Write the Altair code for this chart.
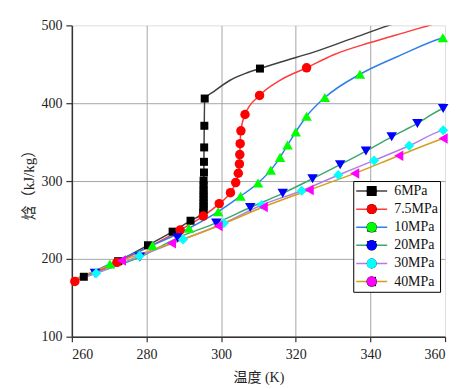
import altair as alt
import pandas as pd

# ---------------- data ----------------
series_names = ["6MPa", "7.5MPa", "10MPa", "20MPa", "30MPa", "40MPa"]
line_colors = ["#404040", "#ff3b3b", "#2f7fe6", "#3da86c", "#b27ee6", "#d4a01c"]
marker_colors = ["#000000", "#ff0000", "#00ff00", "#0000ff", "#00ffff", "#ff00ff"]
marker_shapes = ["square", "circle", "triangle-up", "triangle-down", "diamond", "triangle-left"]
marker_sizes = [64, 90, 110, 110, 100, 110]

# traced curves (temperature K, enthalpy kJ/kg)
line_t_6 = [260.4, 263.2, 272.4, 280.4, 287.0, 291.8, 295.2, 295.6, 297.9, 302.4, 306.8, 310.4, 316.0, 325.0, 335.0, 345.0, 360.0]
line_h_6 = [171.0, 176.5, 197.0, 217.5, 235.0, 249.0, 259.5, 406.0, 414.5, 429.5, 438.8, 444.5, 453.0, 466.0, 483.0, 500.0, 522.0]
line_t_75 = [260.8, 272.1, 289.0, 295.2, 299.5, 302.5, 303.9, 304.6, 304.9, 305.0, 305.1, 305.3, 306.4, 310.3, 316.0, 322.9, 330.0, 340.0, 350.0, 355.0, 360.0]
line_h_75 = [171.0, 195.5, 237.0, 255.0, 271.0, 285.0, 298.0, 310.0, 322.0, 334.0, 348.0, 364.5, 385.5, 410.0, 430.0, 445.5, 462.0, 478.0, 492.0, 499.0, 506.0]
line_t_10 = [260.4, 270.2, 281.6, 291.4, 299.2, 305.2, 309.9, 313.3, 315.8, 317.8, 320.0, 322.9, 327.8, 337.2, 348.0, 359.4, 360.0]
line_h_10 = [171.5, 193.5, 217.3, 239.3, 260.6, 280.5, 297.5, 314.0, 330.4, 346.2, 363.2, 383.3, 407.3, 437.2, 461.5, 484.2, 485.0]
line_t_20 = [260.4, 266.2, 278.2, 288.3, 298.7, 307.8, 316.5, 324.5, 331.9, 338.8, 345.7, 352.6, 359.5, 360.0]
line_h_20 = [172.0, 181.6, 202.2, 227.0, 246.2, 266.0, 284.2, 303.0, 321.0, 338.5, 356.8, 374.0, 393.2, 394.0]
line_t_30 = [260.4, 266.5, 278.1, 289.8, 300.7, 310.9, 321.6, 331.4, 341.0, 350.4, 359.5, 360.0]
line_h_30 = [172.5, 181.5, 203.8, 225.0, 245.8, 269.2, 287.6, 307.7, 326.5, 345.3, 365.4, 366.0]
line_t_40 = [260.4, 273.3, 286.7, 299.2, 311.3, 323.6, 335.8, 347.6, 359.5, 360.0]
line_h_40 = [173.5, 197.8, 220.0, 242.3, 266.6, 288.5, 309.8, 332.5, 354.7, 355.5]

# marker positions
mark_t_6 = [263.2, 272.4, 280.4, 287.0, 291.8, 295.2, 295.3, 295.3, 295.3, 295.3, 295.3, 295.3, 295.3, 295.3, 295.3, 295.4, 295.4, 295.45, 295.5, 295.6, 310.4]
mark_h_6 = [177.0, 197.0, 217.5, 235.0, 249.0, 259.5, 263.5, 267.0, 271.0, 275.0, 279.5, 284.0, 289.0, 294.5, 300.5, 311.0, 324.7, 343.2, 371.0, 406.0, 444.5]
mark_t_75 = [260.8, 272.1, 289.0, 295.2, 299.5, 302.5, 303.9, 304.6, 304.9, 305.0, 305.1, 305.3, 306.4, 310.3, 322.9]
mark_h_75 = [171.0, 195.5, 237.0, 255.0, 271.0, 285.0, 298.0, 310.0, 322.0, 334.0, 348.0, 364.5, 385.5, 410.0, 445.5]
mark_t_10 = [270.2, 281.6, 291.4, 299.2, 305.2, 309.9, 313.3, 315.8, 317.8, 320.0, 322.9, 327.8, 337.2, 359.4]
mark_h_10 = [193.5, 217.3, 239.3, 260.6, 280.5, 297.5, 314.0, 330.4, 346.2, 363.2, 383.3, 407.3, 437.2, 484.2]
mark_t_20 = [266.2, 278.2, 288.3, 298.7, 307.8, 316.5, 324.5, 331.9, 338.8, 345.7, 352.6, 359.5]
mark_h_20 = [181.6, 202.2, 227.0, 246.2, 266.0, 284.2, 303.0, 321.0, 338.5, 356.8, 374.0, 393.2]
mark_t_30 = [266.5, 278.1, 289.8, 300.7, 310.9, 321.6, 331.4, 341.0, 350.4, 359.5]
mark_h_30 = [181.5, 203.8, 225.0, 245.8, 269.2, 287.6, 307.7, 326.5, 345.3, 365.4]
mark_t_40 = [273.3, 286.7, 299.2, 311.3, 323.6, 335.8, 347.6, 359.5]
mark_h_40 = [197.8, 220.0, 242.3, 266.6, 288.5, 309.8, 332.5, 354.7]

x_ticks = list(range(260, 361, 5))
y_ticks = list(range(100, 501, 50))

line_sets = [(line_t_6, line_h_6), (line_t_75, line_h_75), (line_t_10, line_h_10),
             (line_t_20, line_h_20), (line_t_30, line_h_30), (line_t_40, line_h_40)]
mark_sets = [(mark_t_6, mark_h_6), (mark_t_75, mark_h_75), (mark_t_10, mark_h_10),
             (mark_t_20, mark_h_20), (mark_t_30, mark_h_30), (mark_t_40, mark_h_40)]

line_rows = []
for name, (ts, hs) in zip(series_names, line_sets):
    for t, h in zip(ts, hs):
        line_rows.append({"series": name, "T": t, "H": h})
line_df = pd.DataFrame(line_rows)

mark_rows = []
for name, (ts, hs) in zip(series_names, mark_sets):
    for t, h in zip(ts, hs):
        mark_rows.append({"pressure": name, "T": t, "H": h})
mark_df = pd.DataFrame(mark_rows)

# ---------------- styling ----------------
serif = "Liberation Serif"
title_font = "Liberation Serif, Noto Sans CJK SC, serif"
major_grid = "#a6a6a6"
minor_grid = "#cfcfcf"

x_axis = alt.Axis(
    values=x_ticks,
    labelExpr="datum.value % 10 == 0 ? datum.label : ''",
    labelOverlap=False,
    labelFont=serif, labelFontSize=14, labelColor="#222222", labelPadding=6,
    tickSize={"condition": {"test": "datum.value % 10 != 0", "value": 3}, "value": 5},
    tickColor="#333333", tickWidth=1.2,
    domainColor="#333333", domainWidth=1.5,
    grid=True,
    gridColor={"condition": {"test": "datum.value % 10 != 0", "value": minor_grid}, "value": major_grid},
    gridDash={"condition": {"test": "datum.value % 10 != 0", "value": [2, 2]}, "value": []},
    gridOpacity={"condition": {"test": "datum.value == 360", "value": 0}, "value": 1},
    gridWidth=1,
    titleFont=title_font, titleFontSize=14, titleFontWeight="normal", titleColor="#222222", titlePadding=9,
)
y_axis = alt.Axis(
    values=y_ticks,
    labelExpr="datum.value % 100 == 0 ? datum.label : ''",
    labelOverlap=False,
    labelFont=serif, labelFontSize=14, labelColor="#222222", labelPadding=4,
    tickSize={"condition": {"test": "datum.value % 100 != 0", "value": 3}, "value": 6},
    tickColor="#333333", tickWidth=1.2,
    domainColor="#333333", domainWidth=1.5,
    grid=True,
    gridColor={"condition": {"test": "datum.value % 100 != 0", "value": minor_grid}, "value": major_grid},
    gridDash={"condition": {"test": "datum.value % 100 != 0", "value": [2, 2]}, "value": []},
    gridOpacity={"condition": {"test": "datum.value == 500", "value": 0}, "value": 1},
    gridWidth=1,
    titleFont=title_font, titleFontSize=15, titleFontWeight="normal", titleColor="#222222", titlePadding=4,
)

x_scale = alt.Scale(domain=[260, 360], nice=False, zero=False)
y_scale = alt.Scale(domain=[100, 500], nice=False, zero=False)

legend_common = dict(
    title=None, orient="none", legendX=282, legendY=156, padding=2,
    clipHeight=16, rowPadding=2.15,
    labelFont=serif, labelFontSize=14, labelColor="#111111", labelOffset=6,
)
marker_legend = dict(symbolOffset=9.5, symbolStrokeWidth=0, symbolOpacity=1,
                     labelExpr="''", zindex=2, **legend_common)

lines = alt.Chart(line_df).mark_line(interpolate="monotone", strokeWidth=1.5, clip=True).encode(
    x=alt.X("T:Q", scale=x_scale, axis=x_axis, title="温度 (K)"),
    y=alt.Y("H:Q", scale=y_scale, axis=y_axis, title="焓（kJ/kg）"),
    stroke=alt.Stroke("series:N", sort=series_names,
                      scale=alt.Scale(range=line_colors),
                      legend=alt.Legend(symbolType="stroke", symbolSize=961, symbolStrokeWidth=1.5,
                                        strokeColor="black", fillColor="white", zindex=1,
                                        **legend_common)),
)

points = alt.Chart(mark_df).mark_point(filled=True, opacity=1, strokeWidth=0).encode(
    x=alt.X("T:Q", scale=x_scale),
    y=alt.Y("H:Q", scale=y_scale),
    fill=alt.Fill("pressure:N", sort=series_names, scale=alt.Scale(range=marker_colors),
                  legend=alt.Legend(**marker_legend)),
    shape=alt.Shape("pressure:N", sort=series_names, scale=alt.Scale(range=marker_shapes),
                    legend=alt.Legend(**marker_legend)),
    size=alt.Size("pressure:N", sort=series_names, scale=alt.Scale(type="ordinal", range=marker_sizes),
                  legend=alt.Legend(**marker_legend)),
)

chart = alt.layer(lines, points).properties(
    width=374, height=312,
    autosize=alt.AutoSizeParams(type="none"),
    padding={"left": 64, "top": 17, "right": 20, "bottom": 52},
).configure_view(stroke="transparent").configure(background="white")

chart.save("out.html", embed_options={"renderer": "svg", "actions": False})
